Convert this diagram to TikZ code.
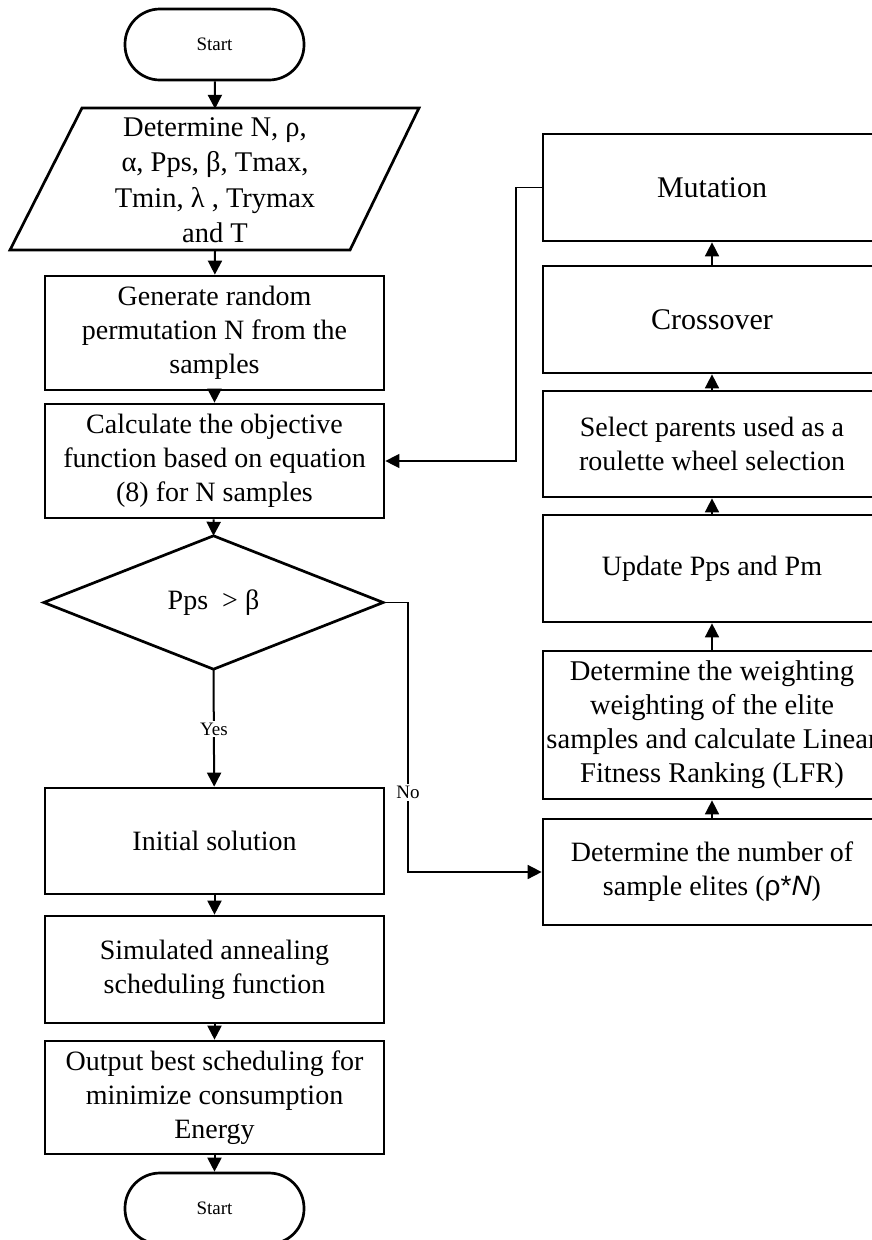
\documentclass[tikz,border=0pt]{standalone}
\usepackage{fontspec}
\setmainfont{Liberation Serif}
\newfontfamily\sansf{Liberation Sans}
\usetikzlibrary{arrows.meta}
\begin{document}
\begin{tikzpicture}[x=1pt,y=-1pt,
  box/.style={draw, line width=2.7pt, minimum width=339pt, inner sep=0pt, align=center,
    font=\fontsize{28}{34}\selectfont},
  rbox/.style={box, minimum width=338pt},
  bigtext/.style={font=\fontsize{30}{34}\selectfont},
  midtext/.style={font=\fontsize{28.6}{34}\selectfont},
  term/.style={draw, line width=2.7pt, minimum width=179pt, minimum height=71pt,
    rounded corners=35pt, inner sep=0pt, font=\fontsize{19}{22}\selectfont},
  ghost/.style={inner sep=0pt, align=center},
  conn/.style={line width=2pt, -{Triangle[width=14pt,length=14pt]}},
  thin/.style={line width=1.6pt, -{Triangle[width=14pt,length=14pt]}},
  lbl/.style={fill=white, inner sep=2pt, font=\fontsize{19}{22}\selectfont}
]
\useasboundingbox (0,0) rectangle (872,1240);

% left column
\node[term] (start) at (214.5,44.5) {Start};
\node[ghost, minimum width=200pt, minimum height=142pt,
  font=\fontsize{28.5}{35.5}\selectfont] (para) at (215,180)
  {Determine N, ρ,\\ α, Pps, β, Tmax,\\ Tmin, λ , Trymax\\ and T};
\draw[line width=2.7pt, line join=miter] (82,108) -- (419,108) -- (350,250) -- (10,250) -- cycle;
\node[box, minimum height=114pt] (gen) at (214.5,333)
  {Generate random\\ permutation N from the\\ samples};
\node[box, minimum height=114pt] (calc) at (214.5,461)
  {Calculate the objective\\ function based on equation\\ (8) for N samples};
\node[ghost, minimum width=339pt, minimum height=133pt,
  font=\fontsize{28}{34}\selectfont] (dec) at (213.5,602.5) {Pps\ \ > β};
\draw[line width=2.7pt, line join=miter] (dec.north) -- (dec.east) -- (dec.south) -- (dec.west) -- cycle;
\node[box, minimum height=106pt] (init) at (214.5,841) {Initial solution};
\node[box, minimum height=107pt] (sim) at (214.5,969.5)
  {Simulated annealing\\ scheduling function};
\node[box, minimum height=113pt] (out) at (214.5,1097.5)
  {Output best scheduling for\\ minimize consumption\\ Energy};
\node[term] (stop) at (214.5,1208.5) {Start};

% right column
\node[rbox, bigtext, minimum height=107pt] (mut) at (712,187.5) {Mutation};
\node[rbox, bigtext, minimum height=107pt] (cross) at (712,319.5) {Crossover};
\node[rbox, minimum height=106pt] (sel) at (712,444)
  {Select parents used as a\\ roulette wheel selection};
\node[rbox, minimum height=107pt] (upd) at (712,568.5) {Update Pps and Pm};
\node[rbox, midtext, minimum height=148pt] (wgt) at (712,725)
  {Determine the weighting\\ weighting of the elite\\ samples and calculate Linear\\ Fitness Ranking (LFR)};
\node[rbox, minimum height=106pt] (num) at (712,872)
  {Determine the number of\\ sample elites ({\sansf ρ*\itshape N})};

% helper coordinates
\coordinate (nA) at (408,602.5);
\coordinate (nB) at (408,872);
\coordinate (fA) at (516,187.5);
\coordinate (fB) at (516,461);

% connectors
\draw[conn] (start) -- (para.north);
\draw[conn] (para.south) -- (gen);
\draw[conn] (gen) -- (calc);
\draw[conn] (calc) -- (dec.north);
\draw[conn] (dec.south) -- node[lbl, pos=0.51] {Yes} (init);
\draw[conn] (init) -- (sim);
\draw[conn] (sim) -- (out);
\draw[conn] (out) -- (stop);
\draw[thin] (dec.east) -- (nA) -- node[lbl, pos=0.706] {No} (nB) -- (num.west);
\draw[thin, line width=1.3pt] (mut.west) -- (fA) -- (fB) -- (calc.east);
\draw[conn, line width=1.6pt] (num) -- (wgt);
\draw[conn, line width=1.6pt] (wgt) -- (upd);
\draw[conn, line width=1.6pt] (upd) -- (sel);
\draw[conn, line width=1.6pt] (sel) -- (cross);
\draw[conn, line width=1.6pt] (cross) -- (mut);
\end{tikzpicture}
\end{document}
